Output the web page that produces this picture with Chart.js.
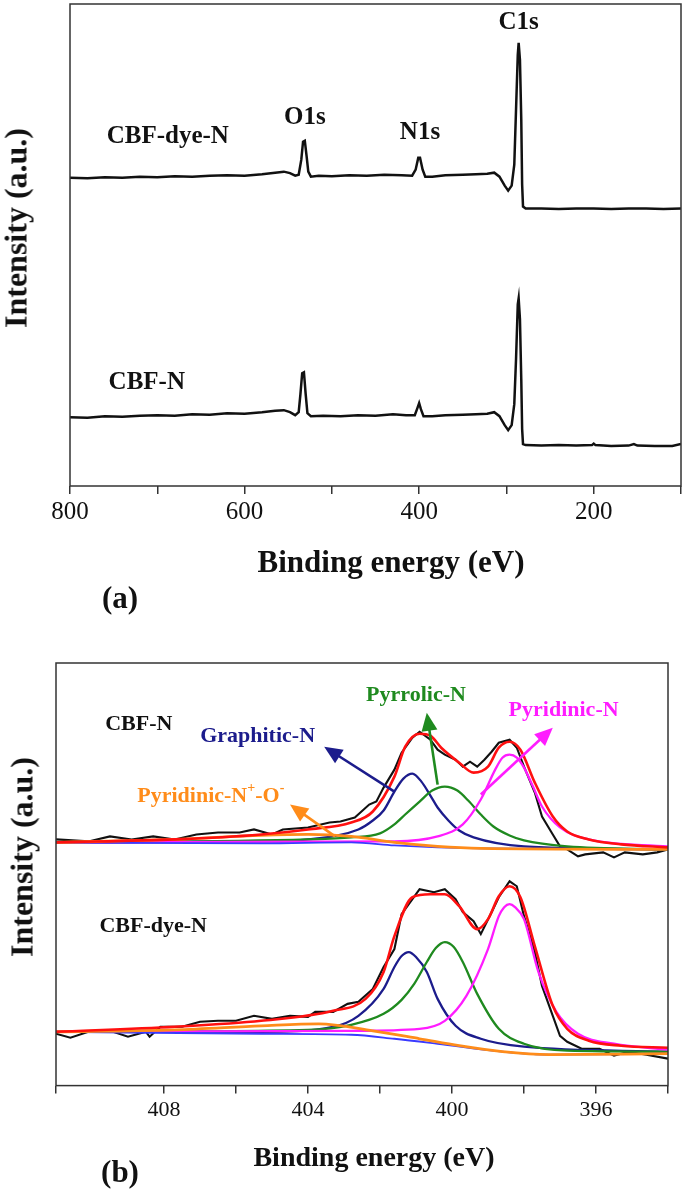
<!DOCTYPE html>
<html>
<head>
<meta charset="utf-8">
<script src="https://cdn.jsdelivr.net/npm/chart.js@4.4.1/dist/chart.umd.min.js"></script>
<style>
  body { margin: 0; background: #fff; }
  #wrap { position: relative; width: 685px; height: 1189px; font-family: "Liberation Serif", "Times New Roman", serif; }
  .box { position: absolute; left: 0; width: 685px; }
  .ytitle { position: absolute; font-weight: bold; font-size: 32px; white-space: nowrap; color: #111;
            transform: translate(-50%, -50%) rotate(-90deg); }
  .xtitle { position: absolute; font-weight: bold; white-space: nowrap; color: #111; transform: translate(-50%, -50%); }
  .tag { position: absolute; font-weight: bold; font-size: 31px; color: #111; transform: translate(-50%, -50%); }
</style>
</head>
<body>
<div id="wrap">
  <div class="box" style="top:0;height:620px"><canvas id="surveyChart"></canvas></div>
  <div class="box" style="top:640px;height:549px"><canvas id="n1sChart"></canvas></div>
  <div class="ytitle" style="left:16px;top:228px">Intensity (a.u.)</div>
  <div class="ytitle" style="left:22px;top:857px">Intensity (a.u.)</div>
  <div class="xtitle" style="left:391px;top:562px;font-size:31px">Binding energy (eV)</div>
  <div class="xtitle" style="left:374px;top:1157px;font-size:28px">Binding energy (eV)</div>
  <div class="tag" style="left:120px;top:598px">(a)</div>
  <div class="tag" style="left:120px;top:1172px">(b)</div>
</div>
<script>
// --- (a) spectre large (survey) ---
const surveyDyeEnergy = [800,780,760,740,720,700,680,660,640,620,600,580,565,555,548,542,538,535,533,531,529,527,524,515,500,480,460,440,420,408,404,401,399,396,393,385,370,350,335,322,314,308,302,298,294,291,289,287,286,284.5,283,282,281,278,260,240,220,200,180,160,140,120,100];
const surveyDyeCounts = [309,308.5,309.5,309,310,309.5,310.5,310,311,311.5,311,312.5,314,315,313.5,311,312,327,345,346,331,315,310,311,310.5,311.5,311,312,311.5,311,317,329,329,317,310,310,311.5,312,312.5,313,314,310,301,296,301,322,377,432,444,427,367,302,280,278,278,277.5,278,278,277.5,278,278,277.5,278];

const surveyNEnergy = [800,780,760,740,720,700,680,660,640,620,600,580,565,555,548,542,538,536,534,532,530,528,524,510,490,470,450,430,415,405,402,400,398,395,385,370,350,335,322,314,308,302,298,294,291,289,287,286,284.5,283,282,281,278,260,240,220,202,200,198,180,160,154,150,130,110,100];
const surveyNCounts = [69,68.5,70,69.5,70.5,71,70.5,72,71.5,73,72.5,74,75.5,76,74,71,74,92,113,114,92,73,70,70.5,70,71,70.5,72,71,71,78,83,77,70,70,71,71.5,72,72.5,74,70,61,56,61,82,127,182,188,167,107,57,42,41,40.5,41,40.5,41,42.5,41,40,40.5,42,40.5,40,40,42];

const surveyTicks = [800, 600, 400, 200];

// --- (b) N1s haute résolution ---
const n1sTicks = [408, 404, 400, 396];

// CBF-N
const nRawE = [411,410.1,409.5,408.9,408.3,407.7,407.1,406.5,405.9,405.5,405.0,404.7,404.0,403.4,403.1,402.7,402.3,402.1,401.9,401.6,401.4,401.1,400.9,400.6,400.4,400.2,399.9,399.7,399.5,399.3,399.1,398.9,398.7,398.4,398.2,398.0,397.7,397.5,397.2,397.0,396.8,396.5,396.3,395.8,395.5,395.2,394.7,394.3,394.0];
const nRawI = [247,245,250,247,250,247,252,254,254,257,252,257,259,264,265,269,282,285,299,317,334,349,355,347,337,332,327,320,325,320,327,335,344,347,339,320,294,270,252,240,237,230,232,234,229,234,232,234,237];
const nFitE = [411,407.7,405.3,404.0,402.8,402.2,401.6,401.3,400.9,400.6,400.3,399.8,399.4,399.0,398.7,398.4,398.1,397.7,397.2,396.8,396.2,395.3,394.0];
const nFitI = [244,247,252,257,264,275,310,340,353,351,339,324,314,320,339,345,337,304,270,255,247,242,239];
const nGraphE = [411,405.3,404.0,402.6,402.2,401.9,401.6,401.35,401.1,400.85,400.6,400.4,400.1,399.8,399.4,398.0,394.0];
const nGraphI = [244,245,247,257,266,276,295,308,313,305,291,279,266,256,249,240,237];
const nPyrroE = [411,404.0,402.8,402.0,401.6,401.3,400.9,400.55,400.2,399.85,399.55,399.2,398.85,398.4,398.0,396.8,394.0];
const nPyrroI = [244,247,249,253,262,272,285,296,300,296,286,272,260,251,246,240,237];
const nPyridE = [411,401.6,400.4,399.7,399.2,398.8,398.6,398.4,398.2,398.0,397.75,397.5,397.0,396.2,394.0];
const nPyridI = [244,245,250,262,287,317,329,332,329,319,300,280,259,247,240];
const nOxideE = [411,407.7,405.3,404.0,402.8,401.6,400.4,399.2,394.0];
const nOxideI = [244,247,251,252,250,244,240,238,237];
const nBgE = [411,405.3,402.8,401.6,400.4,399.2,394.0];
const nBgI = [244,243,244,241,239,238,237];

// CBF-dye-N
const dRawE = [411,410.6,410.1,409.5,409.0,408.5,408.4,408.1,407.5,407.0,406.5,406.0,405.5,405.0,404.5,404.0,403.8,403.3,402.9,402.6,402.2,401.9,401.6,401.4,401.1,400.9,400.5,400.2,399.9,399.7,399.4,399.2,398.9,398.7,398.4,398.2,398.0,397.7,397.5,397.2,397.0,396.8,396.4,395.9,395.5,395.1,394.6,394.0];
const dRawI = [52,48,54,55,49,54,49,59,59,64,65,65,70,67,70,69,74,74,82,84,97,119,137,172,187,197,194,197,187,174,165,152,174,189,205,200,170,134,100,70,50,44,37,37,30,34,31,27];
const dFitE = [411,407.7,405.3,403.3,402.4,401.9,401.6,401.1,400.6,400.2,399.8,399.3,399.0,398.7,398.4,398.1,397.7,397.2,396.8,396.2,395.3,394.0];
const dFitI = [54,59,65,75,87,114,150,189,192,192,180,157,167,190,200,189,140,80,57,45,40,38];
const dGraphE = [411,405.3,403.3,402.6,401.9,401.6,401.4,401.2,401.0,400.7,400.4,399.9,399.2,398.0,394.0];
const dGraphI = [54,54,59,70,97,119,130,134,129,114,87,60,47,39,34];
const dPyrroE = [411,404.0,402.8,401.9,401.4,401.05,400.7,400.45,400.2,399.95,399.7,399.3,398.7,398.0,396.8,394.0];
const dPyrroI = [54,56,61,72,86,102,124,138,144,139,124,92,57,42,35,34];
const dPyridE = [411,402.8,400.9,400.2,399.6,399.0,398.7,398.55,398.4,398.25,398.0,397.6,397.1,396.5,395.5,394.0];
const dPyridI = [54,55,57,65,90,137,170,179,182,179,167,114,74,52,42,36];
const dOxideE = [411,407.7,405.3,403.7,402.2,400.9,399.8,398.6,397.3,394.0];
const dOxideI = [54,56,60,62,55,47,40,34,31,32];
const dBgE = [411,405.3,402.8,401.6,400.4,398.6,397.3,394.0];
const dBgI = [54,52,51,47,42,34,31,32];

const FONT = '"Liberation Serif", "Times New Roman", serif';
const NAVY = '#1c1c8c', GREEN = '#1f8a1f', MAGENTA = '#ff1cff', ORANGE = '#ff8c1a', RED = '#ff1010', BG = '#3a3aff';

const pts = (xs, ys) => xs.map((x, i) => ({ x: x, y: ys[i] }));

// Cadre autour de la zone de tracé
const frame = {
  id: 'frame',
  afterDraw(chart) {
    const a = chart.chartArea, c = chart.ctx;
    c.save();
    c.strokeStyle = '#333';
    c.lineWidth = 1.5;
    c.strokeRect(a.left, a.top, a.right - a.left, a.bottom - a.top);
    c.restore();
  }
};

// Étiquettes et flèches, positionnées en coordonnées des données
function notes(labels, arrows) {
  return {
    id: 'notes',
    afterDatasetsDraw(chart) {
      const c = chart.ctx, sx = chart.scales.x, sy = chart.scales.y;
      c.save();
      arrows.forEach(a => {
        const x1 = sx.getPixelForValue(a.from[0]), y1 = sy.getPixelForValue(a.from[1]);
        const x2 = sx.getPixelForValue(a.to[0]), y2 = sy.getPixelForValue(a.to[1]);
        const ang = Math.atan2(y2 - y1, x2 - x1), L = 18, W = 8;
        c.strokeStyle = a.color; c.fillStyle = a.color; c.lineWidth = 2.6;
        c.beginPath();
        c.moveTo(x1, y1);
        c.lineTo(x2 - Math.cos(ang) * L * 0.8, y2 - Math.sin(ang) * L * 0.8);
        c.stroke();
        c.beginPath();
        c.moveTo(x2, y2);
        c.lineTo(x2 - Math.cos(ang) * L - Math.sin(ang) * W, y2 - Math.sin(ang) * L + Math.cos(ang) * W);
        c.lineTo(x2 - Math.cos(ang) * L + Math.sin(ang) * W, y2 - Math.sin(ang) * L - Math.cos(ang) * W);
        c.closePath();
        c.fill();
      });
      labels.forEach(l => {
        const parts = l.parts || [{ t: l.text }];
        const big = 'bold ' + l.size + 'px ' + FONT, small = 'bold ' + Math.round(l.size * 0.62) + 'px ' + FONT;
        let w = 0;
        parts.forEach(p => { c.font = p.sup ? small : big; w += c.measureText(p.t).width; });
        let x = sx.getPixelForValue(l.at[0]) - w / 2;
        const y = sy.getPixelForValue(l.at[1]);
        c.fillStyle = l.color;
        c.textBaseline = 'middle';
        c.textAlign = 'left';
        parts.forEach(p => {
          c.font = p.sup ? small : big;
          c.fillText(p.t, x, p.sup ? y - l.size * 0.38 : y);
          x += c.measureText(p.t).width;
        });
      });
      c.restore();
    }
  };
}

function line(data, color, width, smooth) {
  return {
    data: data,
    borderColor: color,
    borderWidth: width,
    pointRadius: 0,
    fill: false,
    tension: smooth ? 0.4 : 0,
    cubicInterpolationMode: smooth ? 'monotone' : 'default'
  };
}

function xAxis(min, max, step, labels, tickSize) {
  return {
    type: 'linear', reverse: true, min: min, max: max,
    border: { display: false },
    grid: { drawOnChartArea: false, drawTicks: true, tickLength: 8, color: '#333', lineWidth: 1.5 },
    ticks: {
      stepSize: step, maxRotation: 0, autoSkip: false, color: '#111', padding: 3,
      font: { family: FONT, size: tickSize },
      callback: v => labels.includes(v) ? String(v) : ''
    },
    title: { display: false }
  };
}

// Graphique (a)
new Chart(document.getElementById('surveyChart'), {
  type: 'line',
  data: {
    datasets: [
      line(pts(surveyDyeEnergy, surveyDyeCounts), '#111', 2.5, false),
      line(pts(surveyNEnergy, surveyNCounts), '#111', 2.5, false)
    ]
  },
  options: {
    responsive: true, maintainAspectRatio: false, animation: false,
    layout: { padding: { left: 70, right: 4, top: 4, bottom: 90 } },
    plugins: { legend: { display: false }, tooltip: { enabled: false } },
    scales: {
      x: xAxis(100, 800, 100, surveyTicks, 25),
      y: { display: false, min: 0, max: 483 }
    }
  },
  plugins: [frame, notes([
    { text: 'CBF-dye-N', at: [688, 350], size: 25, color: '#111' },
    { text: 'O1s', at: [531, 369], size: 25, color: '#111' },
    { text: 'N1s', at: [399, 354], size: 25, color: '#111' },
    { text: 'C1s', at: [286, 464], size: 25, color: '#111' },
    { text: 'CBF-N', at: [712, 104], size: 25, color: '#111' }
  ], [])]
});

// Graphique (b)
new Chart(document.getElementById('n1sChart'), {
  type: 'line',
  data: {
    datasets: [
      line(pts(nFitE, nFitI), RED, 2.6, true),
      line(pts(dFitE, dFitI), RED, 2.6, true),
      line(pts(nOxideE, nOxideI), ORANGE, 2.8, true),
      line(pts(dOxideE, dOxideI), ORANGE, 2.8, true),
      line(pts(nBgE, nBgI), BG, 1.8, true),
      line(pts(dBgE, dBgI), BG, 1.8, true),
      line(pts(nPyridE, nPyridI), MAGENTA, 2.3, true),
      line(pts(dPyridE, dPyridI), MAGENTA, 2.3, true),
      line(pts(nPyrroE, nPyrroI), GREEN, 2.3, true),
      line(pts(dPyrroE, dPyrroI), GREEN, 2.3, true),
      line(pts(nGraphE, nGraphI), NAVY, 2.3, true),
      line(pts(dGraphE, dGraphI), NAVY, 2.3, true),
      line(pts(nRawE, nRawI), '#111', 2.1, false),
      line(pts(dRawE, dRawI), '#111', 2.1, false)
    ]
  },
  options: {
    responsive: true, maintainAspectRatio: false, animation: false,
    layout: { padding: { left: 56, right: 17, top: 23, bottom: 63 } },
    plugins: { legend: { display: false }, tooltip: { enabled: false } },
    scales: {
      x: xAxis(394, 411, 2, n1sTicks, 22),
      y: { display: false, min: 0, max: 424 }
    }
  },
  plugins: [frame, notes([
    { text: 'CBF-N', at: [408.7, 362], size: 22, color: '#111' },
    { text: 'Graphitic-N', at: [405.4, 350], size: 22, color: NAVY },
    { text: 'Pyrrolic-N', at: [401.0, 392], size: 22, color: GREEN },
    { text: 'Pyridinic-N', at: [396.9, 377], size: 22, color: MAGENTA },
    { parts: [{ t: 'Pyridinic-N' }, { t: '+', sup: true }, { t: '-O' }, { t: '-', sup: true }], at: [406.7, 290], size: 22, color: ORANGE },
    { text: 'CBF-dye-N', at: [408.3, 160], size: 22, color: '#111' }
  ], [
    { from: [401.6, 295], to: [403.55, 340], color: NAVY },
    { from: [400.4, 302], to: [400.7, 374], color: GREEN },
    { from: [399.2, 292], to: [397.2, 359], color: MAGENTA },
    { from: [403.25, 250], to: [404.5, 282], color: ORANGE }
  ])]
});
</script>
</body>
</html>
